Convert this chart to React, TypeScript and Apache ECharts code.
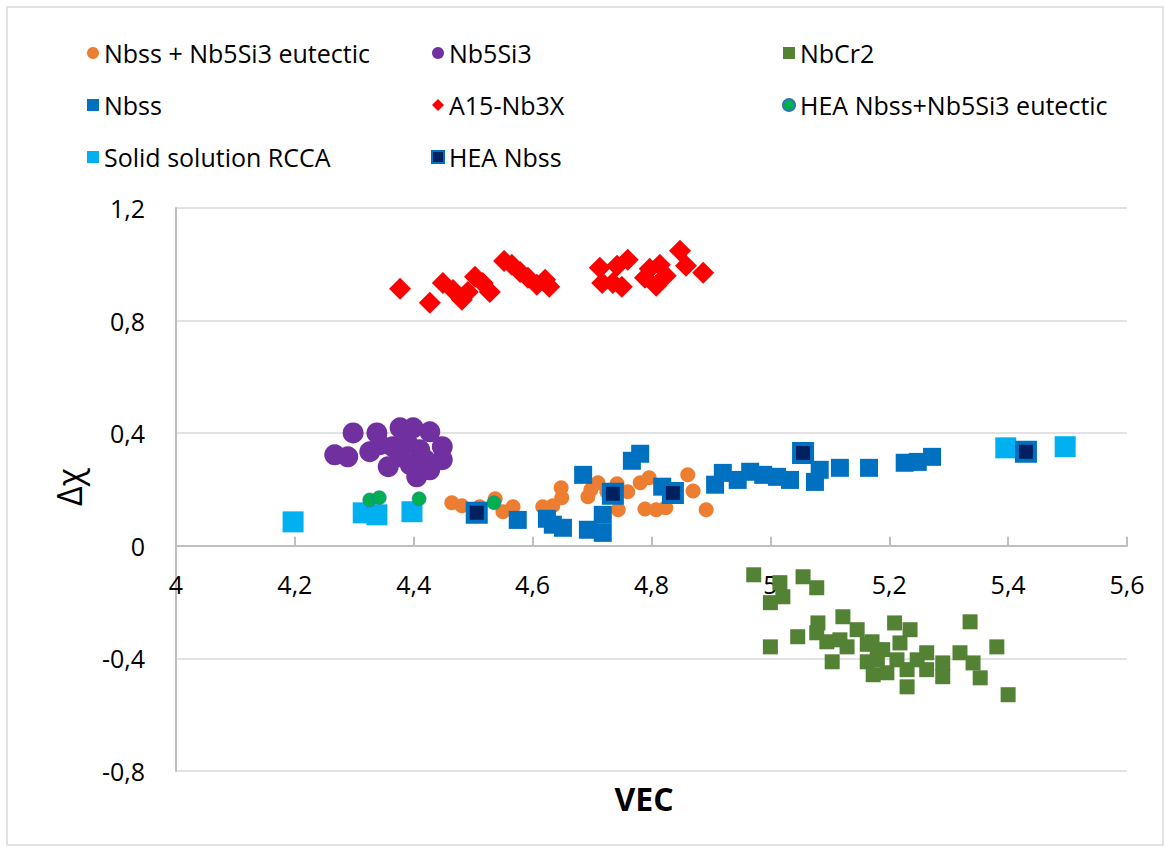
import React, { useEffect, useRef } from "react";
import * as echarts from "echarts";

type Pt = [number, number];

// VEC / Δχ pairs for each phase group
const eutecticPts: Pt[] = [
  [4.464, 0.153], [4.481, 0.142], [4.511, 0.139], [4.537, 0.167], [4.55, 0.121],
  [4.567, 0.139], [4.617, 0.139], [4.634, 0.142], [4.648, 0.206], [4.649, 0.171],
  [4.693, 0.174], [4.698, 0.199], [4.71, 0.224], [4.725, 0.192], [4.742, 0.22],
  [4.744, 0.128], [4.76, 0.192], [4.781, 0.224], [4.796, 0.242], [4.789, 0.131],
  [4.808, 0.128], [4.824, 0.135], [4.861, 0.252], [4.87, 0.195], [4.892, 0.128],
];

const nb5si3Pts: Pt[] = [
  [4.267, 0.323], [4.289, 0.316], [4.298, 0.401], [4.326, 0.334], [4.338, 0.401],
  [4.365, 0.352], [4.377, 0.419], [4.399, 0.419], [4.427, 0.405], [4.389, 0.366],
  [4.41, 0.341], [4.377, 0.316], [4.357, 0.281], [4.405, 0.245], [4.427, 0.27],
  [4.448, 0.352], [4.448, 0.306], [4.343, 0.359], [4.419, 0.306], [4.394, 0.288],
];

const nbcr2Pts: Pt[] = [
  [4.972, -0.103], [5.016, -0.131], [5.021, -0.181], [5.0, -0.202], [5.055, -0.11],
  [5.078, -0.149], [5.0, -0.359], [5.046, -0.323], [5.08, -0.274], [5.078, -0.309],
  [5.095, -0.341], [5.122, -0.252], [5.146, -0.298], [5.129, -0.359], [5.117, -0.334],
  [5.104, -0.412], [5.171, -0.341], [5.163, -0.412], [5.173, -0.458], [5.189, -0.369],
  [5.196, -0.451], [5.209, -0.274], [5.218, -0.345], [5.235, -0.298], [5.213, -0.405],
  [5.23, -0.44], [5.23, -0.501], [5.247, -0.405], [5.263, -0.38], [5.263, -0.44],
  [5.29, -0.416], [5.29, -0.465], [5.319, -0.38], [5.336, -0.27], [5.341, -0.416],
  [5.353, -0.469], [5.381, -0.359], [5.4, -0.529], [5.18, -0.37], [5.163, -0.35],
  [5.18, -0.405],
];

const nbssPts: Pt[] = [
  [4.575, 0.092], [4.624, 0.096], [4.634, 0.075], [4.651, 0.064], [4.685, 0.252],
  [4.693, 0.057], [4.718, 0.11], [4.718, 0.046], [4.767, 0.302], [4.781, 0.327],
  [4.818, 0.21], [4.907, 0.217], [4.92, 0.259], [4.945, 0.234], [4.966, 0.263],
  [4.988, 0.252], [5.011, 0.245], [5.033, 0.234], [5.075, 0.227], [5.083, 0.27],
  [5.117, 0.277], [5.166, 0.277], [5.226, 0.295], [5.248, 0.298], [5.272, 0.316],
];

const a15Pts: Pt[] = [
  [4.377, 0.913], [4.427, 0.863], [4.449, 0.934], [4.466, 0.909], [4.481, 0.874],
  [4.491, 0.902], [4.503, 0.956], [4.516, 0.934], [4.528, 0.902], [4.552, 1.012],
  [4.565, 0.998], [4.579, 0.973], [4.592, 0.952], [4.607, 0.927], [4.621, 0.945],
  [4.628, 0.92], [4.713, 0.988], [4.717, 0.934], [4.735, 0.934], [4.742, 0.995],
  [4.76, 1.016], [4.75, 0.92], [4.789, 0.952], [4.797, 0.984], [4.808, 0.924],
  [4.814, 0.998], [4.824, 0.959], [4.848, 1.048], [4.858, 0.995], [4.887, 0.97],
];

const rccaPts: Pt[] = [
  [4.197, 0.085], [4.315, 0.117], [4.338, 0.11], [4.397, 0.121], [5.396, 0.348], [5.496, 0.352],
];

const heaEutecticPts: Pt[] = [
  [4.326, 0.163], [4.342, 0.171], [4.409, 0.167], [4.535, 0.153],
];

const heaNbssPts: Pt[] = [
  [4.506, 0.117], [4.735, 0.185], [4.836, 0.188], [5.055, 0.33], [5.43, 0.334],
];

// Legend columns, top to bottom
const legendCol1 = ["Nbss + Nb5Si3 eutectic", "Nbss", "Solid solution RCCA"];
const legendCol2 = ["Nb5Si3", "A15-Nb3X", "HEA Nbss"];
const legendCol3 = ["NbCr2", "HEA Nbss+Nb5Si3 eutectic"];

const FONT = "'Open Sans', 'Noto Sans', sans-serif";
const fmt = (v: number) => String(Math.round(v * 10) / 10).replace(".", ",");

const GRID_TOP = 208;
const GRID_BOTTOM = 76;
const CHART_H = 847;
const Y_MIN = -0.8;
const Y_MAX = 1.2;

export default function App() {
  const ref = useRef<HTMLDivElement>(null);

  useEffect(() => {
    if (!ref.current) return;
    const chart = echarts.init(ref.current, undefined, { renderer: "svg" });

    // distance from the grid's bottom edge up to the Δχ = 0 line
    const plotH = CHART_H - GRID_TOP - GRID_BOTTOM;
    const zeroOffset = -(plotH * (0 - Y_MIN)) / (Y_MAX - Y_MIN);

    const legendBase = {
      orient: "vertical" as const,
      top: 35,
      itemWidth: 12,
      itemHeight: 12,
      itemGap: 26,
      selectedMode: false,
      textStyle: { fontFamily: FONT, fontSize: 25, lineHeight: 26, color: "#000" },
    };

    const scatter = (name: string, data: Pt[], symbol: string, size: number, itemStyle: any) => ({
      name,
      type: "scatter",
      data,
      symbol,
      symbolSize: size,
      itemStyle: { opacity: 1, ...itemStyle },
      silent: true,
    });

    chart.setOption({
      animation: false,
      backgroundColor: "#fff",
      grid: { left: 176, right: 38, top: GRID_TOP, bottom: GRID_BOTTOM },
      legend: [
        { ...legendBase, left: 82, data: legendCol1 },
        { ...legendBase, left: 426, data: legendCol2 },
        { ...legendBase, left: 777, data: legendCol3 },
      ],
      xAxis: {
        type: "value",
        position: "bottom",
        offset: zeroOffset,
        min: 4,
        max: 5.6,
        interval: 0.2,
        axisLine: { onZero: false, lineStyle: { color: "#bfbfbf", width: 2 } },
        axisTick: { inside: true, length: 9, lineStyle: { color: "#bfbfbf", width: 2 } },
        axisLabel: { margin: 26, fontFamily: FONT, fontSize: 25, color: "#000", formatter: fmt },
        splitLine: { show: false },
      },
      yAxis: {
        type: "value",
        min: Y_MIN,
        max: Y_MAX,
        interval: 0.4,
        axisLine: { show: true, onZero: false, lineStyle: { color: "#bfbfbf", width: 2 } },
        axisTick: { show: false },
        axisLabel: { margin: 31, fontFamily: FONT, fontSize: 25, color: "#000", formatter: fmt },
        splitLine: { lineStyle: { color: "#d9d9d9", width: 1.5 } },
      },
      graphic: [
        {
          type: "rect",
          shape: { x: 7, y: 7, width: 1156, height: 838 },
          style: { fill: "none", stroke: "#d9d9d9", lineWidth: 1.5 },
          silent: true,
        },
        {
          type: "text",
          x: 644,
          y: 798,
          style: {
            text: "VEC",
            fontFamily: FONT,
            fontSize: 32,
            fontWeight: "bold",
            fill: "#000",
            align: "center",
            verticalAlign: "middle",
          },
        },
        {
          type: "text",
          x: 69,
          y: 487,
          rotation: Math.PI / 2,
          style: {
            text: "Δχ",
            fontFamily: FONT,
            fontSize: 34,
            fill: "#000",
            align: "center",
            verticalAlign: "middle",
          },
        },
      ],
      series: [
        scatter("Nbss + Nb5Si3 eutectic", eutecticPts, "circle", 15, { color: "#ed7d31" }),
        scatter("Nb5Si3", nb5si3Pts, "circle", 21, { color: "#7030a0" }),
        scatter("NbCr2", nbcr2Pts, "rect", 15, { color: "#548235" }),
        scatter("Nbss", nbssPts, "rect", 18, { color: "#0070c0" }),
        scatter("A15-Nb3X", a15Pts, "diamond", 22, { color: "#ff0000" }),
        scatter("Solid solution RCCA", rccaPts, "rect", 21, { color: "#00b0f0" }),
        scatter("HEA Nbss+Nb5Si3 eutectic", heaEutecticPts, "circle", 14, {
          color: "#00b050",
          borderColor: "#2e75b6",
          borderWidth: 0.6,
        }),
        scatter("HEA Nbss", heaNbssPts, "rect", 18, {
          color: "#002060",
          borderColor: "#0070c0",
          borderWidth: 4,
        }),
      ],
    });

    return () => chart.dispose();
  }, []);

  return (
    <div
      ref={ref}
      style={{ position: "absolute", left: 0, top: 0, width: 1165, height: 847 }}
    />
  );
}
